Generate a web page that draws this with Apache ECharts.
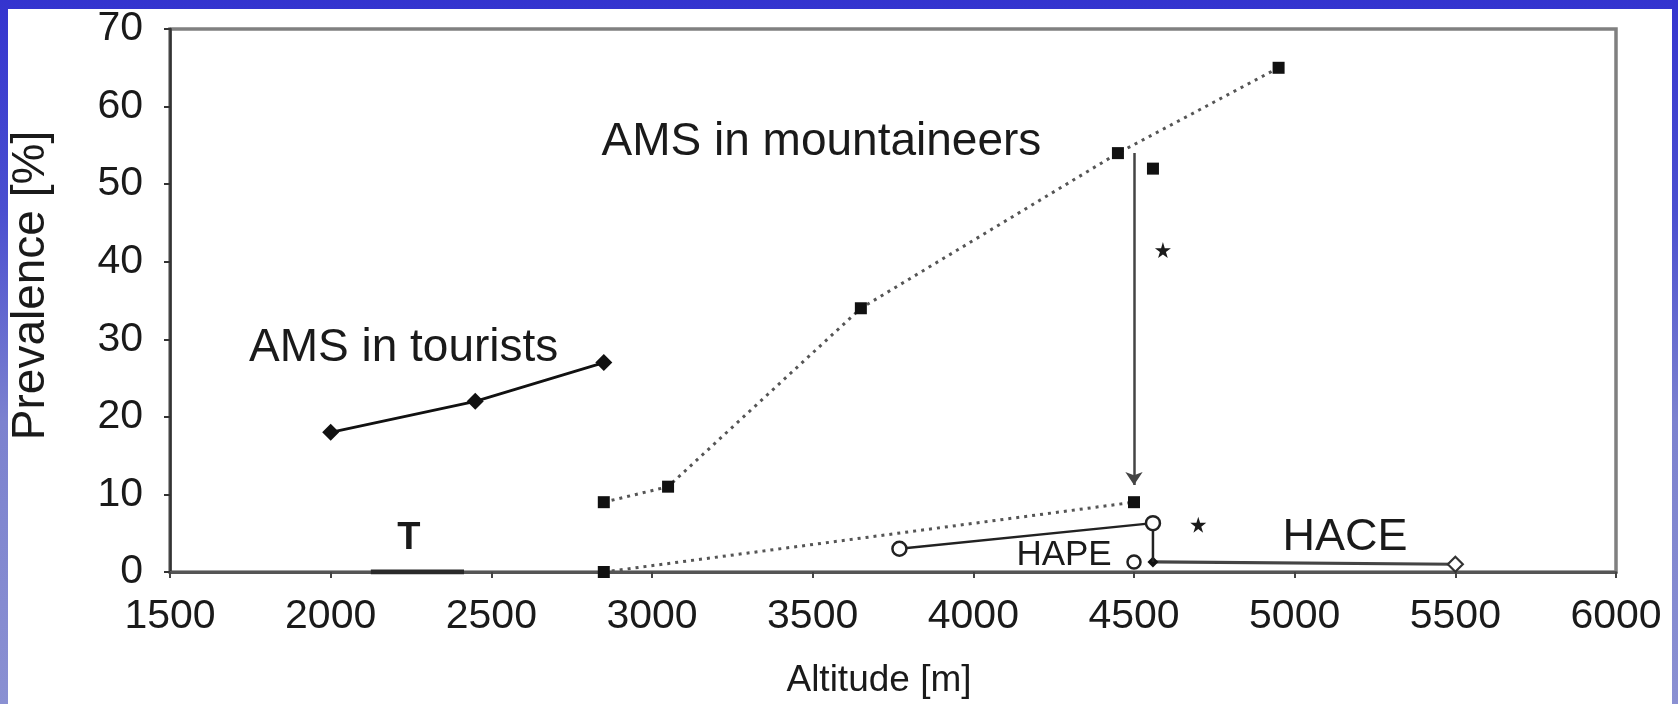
<!DOCTYPE html>
<html>
<head>
<meta charset="utf-8">
<script src="https://cdn.jsdelivr.net/npm/echarts@6/dist/echarts.min.js"></script>
<style>
  html, body { margin:0; padding:0; width:1678px; height:704px; overflow:hidden; }
  body { background: linear-gradient(180deg, #3434cf 0%, #4a4fd0 30%, #7c82cf 60%, #8a90d2 100%); position:relative; }
  #paper { position:absolute; left:8px; top:9px; right:6px; bottom:0; background:#ffffff; }
  #chart { position:absolute; left:0; top:0; width:1678px; height:704px; }
</style>
</head>
<body>
<div id="paper"></div>
<div id="chart"></div>
<script>
// ---- data ----
const touristsAlt = [2000, 2450, 2850];
const touristsAMS = [18, 22, 27];

const mountAlt = [2850, 3050, 3650, 4450, 4950];
const mountAMS = [9, 11, 34, 54, 65];

const extraMountAlt = [4559];
const extraMountAMS = [52];

const lowerDottedAlt = [2850, 4500];
const lowerDottedVal = [0, 9];

const hapeAlt = [3770, 4559, 4559];
const hapeVal = [3, 6.3, 1.3];
const hapeExtraAlt = [4500];
const hapeExtraVal = [1.3];

const haceAlt = [4559, 5500];
const haceVal = [1.3, 1];

const tAlt = [2125, 2415];
const tVal = [0, 0];

const arrowAlt = [4500, 4500];
const arrowVal = [54, 11.2];

const starAlt = [4590, 4700];
const starVal = [41.5, 6.1];

const annotations = [
  { text: 'AMS in mountaineers', alt: 2843, val: 55.4 },
  { text: 'AMS in tourists', alt: 1746, val: 28.8 },
  { text: 'T', alt: 2243, val: 4.3 },
  { text: 'HAPE', alt: 4134, val: 2.2 },
  { text: 'HACE', alt: 4962, val: 4.45 }
];
const annotStyles = {
  'AMS in mountaineers': { fontSize: 46 },
  'AMS in tourists': { fontSize: 46 },
  'T': { fontSize: 38, fontWeight: 'bold', align: 'center' },
  'HAPE': { fontSize: 35 },
  'HACE': { fontSize: 45 }
};

const pairs = (xs, ys) => xs.map((x, i) => [x, ys[i]]);
const FONT = '"Liberation Sans", Arial, Helvetica, sans-serif';
const starPath = 'path://M50,0 L61,35 L98,35 L68,57 L79,91 L50,70 L21,91 L32,57 L2,35 L39,35 Z';
const TXT = '#1a1a1a';

const chart = echarts.init(document.getElementById('chart'), null, { renderer: 'canvas' });

const openCircle = { color: '#ffffff', borderColor: '#222', borderWidth: 2.5, opacity: 1 };

const option = {
  animation: false,
  backgroundColor: 'transparent',
  textStyle: { fontFamily: FONT },
  grid: {
    left: 169, right: 62, top: 29, bottom: 132,
    show: true, borderColor: '#808080', borderWidth: 3.5, backgroundColor: 'transparent'
  },
  xAxis: {
    type: 'value', min: 1500, max: 6000, interval: 500,
    name: 'Altitude [m]', nameLocation: 'middle', nameGap: 90,
    nameTextStyle: { fontSize: 37, color: TXT, fontFamily: FONT, padding: [0, 28, 0, 0] },
    axisLine: { show: true, onZero: false, lineStyle: { color: '#555', width: 3 } },
    axisTick: { show: true, inside: false, length: 6, lineStyle: { color: '#444', width: 2 } },
    axisLabel: { fontSize: 41, color: TXT, margin: 24, fontFamily: FONT, formatter: v => String(v) },
    splitLine: { show: false }
  },
  yAxis: {
    type: 'value', min: 0, max: 70, interval: 10,
    name: 'Prevalence [%]', nameLocation: 'middle', nameGap: 116, nameRotate: 90,
    nameTextStyle: { fontSize: 46, color: TXT, fontFamily: FONT, padding: [0, 0, 0, 30] },
    axisLine: { show: true, lineStyle: { color: '#333', width: 2.5 } },
    axisTick: { show: true, inside: false, length: 6, lineStyle: { color: '#333', width: 2 } },
    axisLabel: { fontSize: 41, color: TXT, margin: 27, fontFamily: FONT, formatter: v => String(v) },
    splitLine: { show: false }
  },
  series: [
    {
      name: 'T range', type: 'line', data: pairs(tAlt, tVal),
      symbol: 'none', lineStyle: { color: '#2a2a2a', width: 5 }, z: 3
    },
    {
      name: 'Lower dotted', type: 'line', data: pairs(lowerDottedAlt, lowerDottedVal),
      symbol: 'rect', symbolSize: 12, itemStyle: { color: '#111' },
      lineStyle: { color: '#555', width: 3, type: [3, 5] }
    },
    {
      name: 'AMS in mountaineers', type: 'line', data: pairs(mountAlt, mountAMS),
      symbol: 'rect', symbolSize: 12, itemStyle: { color: '#111' },
      lineStyle: { color: '#555', width: 3, type: [3, 5] },
      markLine: {
        silent: true, symbol: ['none', 'arrow'], symbolSize: 13,
        label: { show: false },
        lineStyle: { color: '#444', width: 2.5, type: 'solid' },
        data: [[{ coord: [arrowAlt[0], arrowVal[0]] }, { coord: [arrowAlt[1], arrowVal[1]] }]]
      }
    },
    {
      name: 'AMS extra', type: 'scatter', data: pairs(extraMountAlt, extraMountAMS),
      symbol: 'rect', symbolSize: 12, itemStyle: { color: '#111', opacity: 1 }
    },
    {
      name: 'AMS in tourists', type: 'line', data: pairs(touristsAlt, touristsAMS),
      symbol: 'diamond', symbolSize: 17, itemStyle: { color: '#111' },
      lineStyle: { color: '#111', width: 2.8 }
    },
    {
      name: 'HACE', type: 'line',
      data: haceAlt.map((x, i) => i === 0
        ? { value: [x, haceVal[i]], symbol: 'diamond', symbolSize: 11, itemStyle: { color: '#111', borderWidth: 0 } }
        : { value: [x, haceVal[i]], symbol: 'diamond', symbolSize: 15, itemStyle: { color: '#fff', borderColor: '#333', borderWidth: 2.2 } }),
      lineStyle: { color: '#444', width: 3.2 }, z: 4
    },
    {
      name: 'HAPE', type: 'line',
      data: hapeAlt.map((x, i) => i === 2
        ? { value: [x, hapeVal[i]], symbol: 'none' }
        : { value: [x, hapeVal[i]] }),
      symbol: 'circle', symbolSize: 14, itemStyle: openCircle,
      lineStyle: { color: '#222', width: 2.5 }, z: 5
    },
    {
      name: 'HAPE extra', type: 'scatter', data: pairs(hapeExtraAlt, hapeExtraVal),
      symbol: 'circle', symbolSize: 13, itemStyle: openCircle, z: 5
    },
    {
      name: 'Significance', type: 'scatter', data: pairs(starAlt, starVal),
      symbol: starPath, symbolSize: 16, itemStyle: { color: '#1a1a1a', opacity: 1 }
    },
    {
      name: 'Annotations', type: 'scatter', symbolSize: 0, silent: true,
      itemStyle: { opacity: 1 },
      data: annotations.map(a => ({
        value: [a.alt, a.val],
        label: {
          show: true, formatter: a.text,
          position: (annotStyles[a.text].align === 'center') ? 'inside' : 'right',
          distance: 0,
          fontSize: annotStyles[a.text].fontSize,
          fontWeight: annotStyles[a.text].fontWeight || 'normal',
          color: TXT, fontFamily: FONT, textBorderWidth: 0
        }
      }))
    }
  ]
};
chart.setOption(option);
</script>
</body>
</html>
